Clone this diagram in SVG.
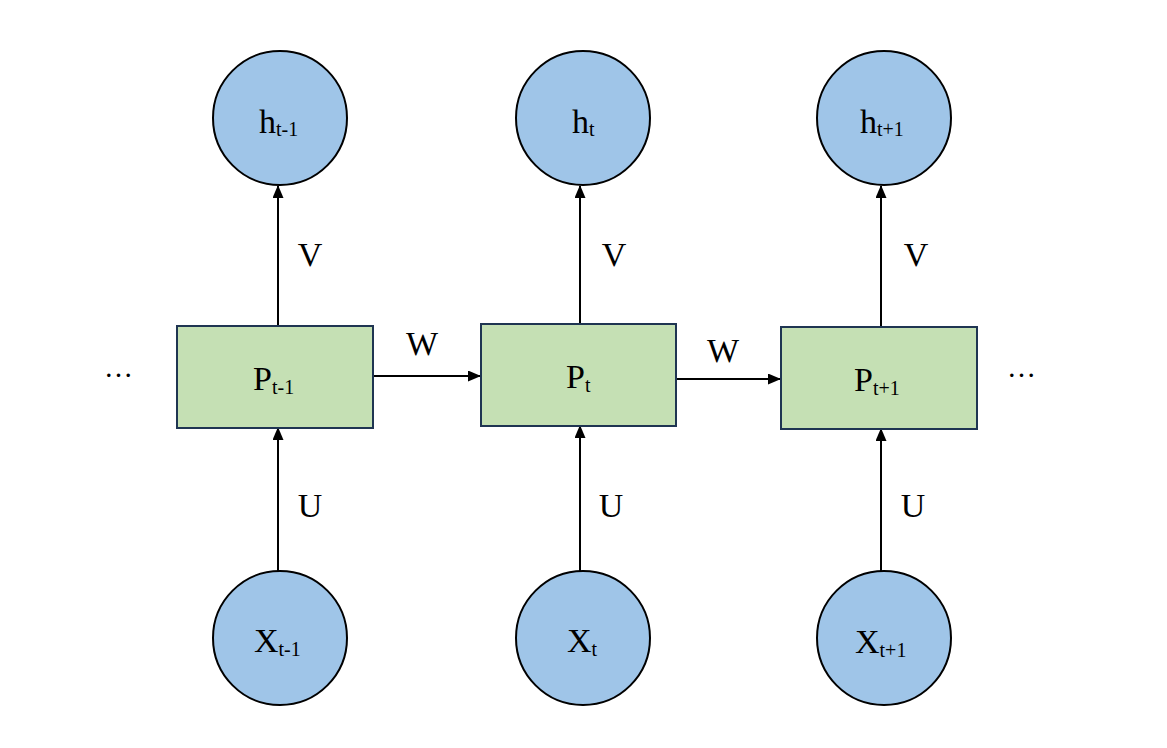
<svg xmlns="http://www.w3.org/2000/svg" width="1167" height="748" viewBox="0 0 1167 748">
<defs>
<marker id="arr" markerWidth="13" markerHeight="11" refX="12" refY="5.5" orient="auto" markerUnits="userSpaceOnUse">
<path d="M0,0 L13,5.5 L0,11 z" fill="#000"/>
</marker>
<style>
.c{fill:#9fc5e8;stroke:#000;stroke-width:2}
.r{fill:#c5e0b4;stroke:#1f3552;stroke-width:2}
.t{font-family:"Liberation Serif","Times New Roman",serif;font-size:34px;fill:#000}
.s{font-size:20px}
.l{font-family:"Liberation Serif","Times New Roman",serif;font-size:34px;fill:#000;text-anchor:middle}
.e{stroke:#000;stroke-width:2;fill:none;marker-end:url(#arr)}
</style>
</defs>
<rect width="1167" height="748" fill="#fff"/>
<g id="connectors">
<line class="e" x1="278" y1="326" x2="278" y2="186"/>
<line class="e" x1="580" y1="324" x2="580" y2="186"/>
<line class="e" x1="881" y1="327" x2="881" y2="186"/>
<line class="e" x1="278" y1="571" x2="278" y2="428"/>
<line class="e" x1="580" y1="571" x2="580" y2="426"/>
<line class="e" x1="881" y1="571" x2="881" y2="429"/>
<line class="e" x1="373" y1="376" x2="480" y2="376"/>
<line class="e" x1="676" y1="379" x2="780" y2="379"/>
<text class="l" x="310" y="266">V</text>
<text class="l" x="614" y="266">V</text>
<text class="l" x="916" y="266">V</text>
<text class="l" x="310" y="517">U</text>
<text class="l" x="611" y="517">U</text>
<text class="l" x="913" y="517">U</text>
<text class="l" x="422" y="355">W</text>
<text class="l" x="723" y="362">W</text>
</g>
<g id="h1"><circle class="c" cx="280" cy="118" r="67"/><text class="t" x="259" y="133">h<tspan class="s" dy="3">t-1</tspan></text></g>
<g id="h2"><circle class="c" cx="583" cy="118" r="67"/><text class="t" x="572" y="133">h<tspan class="s" dy="3">t</tspan></text></g>
<g id="h3"><circle class="c" cx="884" cy="118" r="67"/><text class="t" x="860" y="133">h<tspan class="s" dy="3">t+1</tspan></text></g>
<g id="p1"><rect class="r" x="177" y="326" width="196" height="102"/><text class="t" x="253" y="390">P<tspan class="s" dy="4">t-1</tspan></text></g>
<g id="p2"><rect class="r" x="481" y="324" width="195" height="102"/><text class="t" x="566" y="388">P<tspan class="s" dy="4">t</tspan></text></g>
<g id="p3"><rect class="r" x="781" y="327" width="196" height="102"/><text class="t" x="854" y="391">P<tspan class="s" dy="4">t+1</tspan></text></g>
<g id="x1"><circle class="c" cx="280" cy="638" r="67"/><text class="t" x="254" y="652">X<tspan class="s" dy="4">t-1</tspan></text></g>
<g id="x2"><circle class="c" cx="583" cy="638" r="67"/><text class="t" x="567" y="652">X<tspan class="s" dy="4">t</tspan></text></g>
<g id="x3"><circle class="c" cx="884" cy="638" r="67"/><text class="t" x="855" y="653">X<tspan class="s" dy="4">t+1</tspan></text></g>
<g id="dots1"><text class="t" x="104" y="377" style="font-size:29px">…</text></g>
<g id="dots2"><text class="t" x="1007" y="377" style="font-size:29px">…</text></g>
</svg>
